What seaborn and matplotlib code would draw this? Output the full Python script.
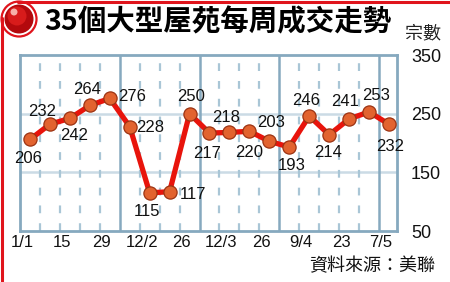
import numpy as np
import pandas as pd
import matplotlib
matplotlib.use("Agg")
import matplotlib.pyplot as plt
from matplotlib.patches import Circle
import seaborn as sns

# ---- data ----
weeks = list(range(19))
values = [206, 232, 242, 264, 276, 228, 115, 117, 250, 217, 218, 220, 203, 193, 246, 214, 241, 253, 232]
tick_idx = [0, 2, 4, 6, 8, 10, 12, 14, 16, 18]
tick_labels = ["1/1", "15", "29", "12/2", "26", "12/3", "26", "9/4", "23", "7/5"]
month_breaks = [4.5, 8.5, 12.5, 17.5]
y_ticks = [50, 150, 250, 350]
title = "35個大型屋苑每周成交走勢"
unit = "宗數"
source = "資料來源：美聯"

# label offsets in pixels (dx, dy downward positive)
label_offsets = [(-2, 19), (-8, -13), (4, 17), (-3, -16), (22, -2), (20, 1), (-3, 19),
                 (23, 3), (2, -17), (-2, 20), (-3, -15), (0, 21), (2, -19), (2, 18),
                 (-3, -16), (-1, 18), (-4, -17), (7, -16), (1, 22)]

sns.set_theme(style="white")
plt.rcParams['font.family'] = ['Liberation Sans', 'Noto Sans CJK TC', 'DejaVu Sans']

DPI = 100
W, H = 450, 282
fig = plt.figure(figsize=(W / DPI, H / DPI), dpi=DPI)
fig.patch.set_facecolor("white")

left, right, top, bottom = 20, 397, 55, 231
ax = fig.add_axes([left / W, 1 - bottom / H, (right - left) / W, (bottom - top) / H])

df = pd.DataFrame({"week": weeks, "value": values})

frame_col = "#86a9bf"
grid_col = "#cbdbe5"
dash_col = "#a9c6d6"

# grid
for yv in [150, 250]:
    ax.axhline(yv, color=grid_col, lw=1.8, zorder=1)
for i in range(len(weeks) - 1):
    xv = i + 0.5
    if xv in month_breaks:
        continue
    ax.axvline(xv, color=dash_col, lw=1.6, ls=(0, (3.5, 4.5)), zorder=1)
for xv in month_breaks:
    ax.axvline(xv, color=frame_col, lw=1.8, zorder=1)

sns.lineplot(data=df, x="week", y="value", ax=ax, color="#e8140c", lw=3.8,
             marker="o", markersize=9.5, markerfacecolor="#e2632f",
             markeredgecolor="#9c3312", markeredgewidth=0.9, zorder=3)

k = 72 / DPI
for x, v, (dx, dy) in zip(weeks, values, label_offsets):
    ax.annotate(str(v), (x, v), xytext=(dx * k, -dy * k), textcoords="offset points",
                ha="center", va="center", fontsize=12, color="#111111",
                family="Liberation Sans", zorder=4, annotation_clip=False)

ax.set_xlim(-0.5, 18.4)
ax.set_ylim(50, 350)
ax.set_xticks([t - 0.4 for t in tick_idx])
ax.set_xticklabels(tick_labels, fontsize=12, color="#111111")
ax.yaxis.tick_right()
ax.set_yticks(y_ticks)
ax.set_yticklabels([str(t) for t in y_ticks], fontsize=13, color="#111111")
ax.tick_params(axis="both", length=0)
ax.tick_params(axis="x", pad=3)
ax.tick_params(axis="y", pad=10)
ax.set_xlabel("")
ax.set_ylabel("")
for s in ax.spines.values():
    s.set_color(frame_col)
    s.set_linewidth(2)
    s.set_visible(True)

# red frame lines
fig.add_artist(plt.Line2D([18 / W, 1], [1 - 2 / H, 1 - 2 / H], transform=fig.transFigure, color="#e0141c", lw=2.2))
fig.add_artist(plt.Line2D([2 / W, 2 / W], [0, 1 - 18 / H], transform=fig.transFigure, color="#e0141c", lw=2.2))

# icon
iax = fig.add_axes([0, 1 - 38 / H, 38 / W, 38 / H])
iax.set_xlim(0, 38); iax.set_ylim(38, 0); iax.set_aspect("equal"); iax.axis("off")
iax.add_patch(Circle((19, 19), 17.5, facecolor="white", edgecolor="#e0141c", lw=1.6))
iax.add_patch(Circle((19, 19), 14.5, facecolor="#b3090d", edgecolor="none"))
iax.add_patch(Circle((17, 16), 9.5, facecolor="#d81b1b", edgecolor="none"))
iax.add_patch(Circle((14, 12), 3.5, facecolor="#f6b0a8", edgecolor="none"))

fig.text(44 / W, 1 - 22 / H, title, fontsize=20.5, fontweight="heavy",
         family=["Noto Sans CJK TC"], color="black", va="center", ha="left")
fig.text(423 / W, 1 - 33 / H, unit, fontsize=13, family=["Noto Sans CJK TC"],
         color="#222222", va="center", ha="center")
fig.text(435 / W, 1 - 266 / H, source, fontsize=13, family=["Noto Sans CJK TC"],
         color="#111111", va="center", ha="right")

fig.savefig("out.png", dpi=DPI, facecolor="white")
